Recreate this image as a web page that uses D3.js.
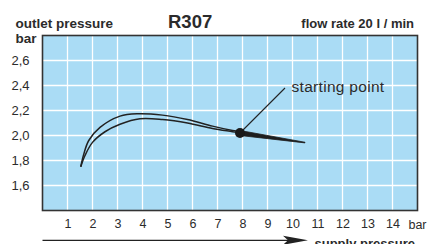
<!DOCTYPE html>
<html>
<head>
<meta charset="utf-8">
<script src="https://cdn.jsdelivr.net/npm/d3@7"></script>
<style>
  html, body { margin: 0; padding: 0; background: #fff; }
  svg { display: block; font-family: 'Liberation Sans', Arial, sans-serif; }
</style>
</head>
<body>
<div id="chart"></div>
<script>
// Chart data
const supplyTicks = [1, 2, 3, 4, 5, 6, 7, 8, 9, 10, 11, 12, 13, 14];
const outletTicks = [1.6, 1.8, 2.0, 2.2, 2.4, 2.6];

// upper curve (bar)
const supplyUpper = [1.53, 1.65, 1.85, 2.3, 3.1, 3.8, 4.8, 5.8, 6.8, 7.6, 7.9];
const outletUpper = [1.75, 1.85, 1.96, 2.065, 2.155, 2.174, 2.163, 2.128, 2.075, 2.04, 2.03];

// lower curve (bar)
const supplyLower = [1.53, 1.7, 2.0, 2.5, 3.1, 3.9, 4.8, 5.8, 6.8, 7.6, 7.9];
const outletLower = [1.75, 1.84, 1.945, 2.03, 2.09, 2.134, 2.128, 2.10, 2.056, 2.03, 2.02];

// tail after the starting point (drawn as a wedge)
const supplyTail = [7.9, 10.5];
const outletTailTop = [2.04, 1.946];
const outletTailBottom = [2.0, 1.941];

// starting point and its label
const startPoint = { x: 7.9, y: 2.02 };
const labelPoint = { x: 9.7, y: 2.38 };

const width = 427, height = 244;
const margin = { top: 35.5, right: 9.5, bottom: 33.5, left: 42.5 };

const svg = d3.select('#chart').append('svg')
  .attr('width', width)
  .attr('height', height);

const x = d3.scaleLinear().domain([0, 15]).range([margin.left, width - margin.right]);
const y = d3.scaleLinear().domain([1.4, 2.8]).range([height - margin.bottom, margin.top]);

const textColor = '#2b2b2b';

// plot background
svg.append('rect')
  .attr('x', x(0)).attr('y', y(2.8))
  .attr('width', x(15) - x(0)).attr('height', y(1.4) - y(2.8))
  .attr('fill', '#aadcf5');

// white grid
const grid = svg.append('g').attr('stroke', '#fff').attr('stroke-width', 1.3);
grid.selectAll('.vx').data(supplyTicks).enter().append('line')
  .attr('x1', d => x(d)).attr('x2', d => x(d))
  .attr('y1', y(2.8)).attr('y2', y(1.4));
grid.selectAll('.hy').data(outletTicks).enter().append('line')
  .attr('x1', x(0)).attr('x2', x(15))
  .attr('y1', d => y(d)).attr('y2', d => y(d));

// frame
svg.append('rect')
  .attr('x', x(0)).attr('y', y(2.8))
  .attr('width', x(15) - x(0)).attr('height', y(1.4) - y(2.8))
  .attr('fill', 'none').attr('stroke', '#333').attr('stroke-width', 1.6);

// y axis labels
svg.append('g')
  .attr('transform', `translate(${x(0)},0)`)
  .call(d3.axisLeft(y).tickValues(outletTicks).tickSize(0).tickPadding(13)
    .tickFormat(d => d3.format('.1f')(d).replace('.', ',')))
  .call(g => g.select('.domain').remove())
  .selectAll('text')
  .attr('font-size', 13).attr('fill', textColor).attr('font-family', null);

// x axis labels
svg.append('g')
  .attr('transform', `translate(0,${y(1.4)})`)
  .call(d3.axisBottom(x).tickValues(supplyTicks).tickSize(0).tickPadding(9).tickFormat(d3.format('d')))
  .call(g => g.select('.domain').remove())
  .selectAll('text')
  .attr('font-size', 12.5).attr('fill', textColor).attr('font-family', null);

svg.append('text')
  .attr('x', x(15)).attr('y', y(1.4) + 18.5)
  .attr('text-anchor', 'middle').attr('font-size', 12.5).attr('fill', textColor)
  .text('bar');

// curves
const line = d3.line().x(d => x(d[0])).y(d => y(d[1])).curve(d3.curveCatmullRom.alpha(0.5));
const curves = [d3.zip(supplyUpper, outletUpper), d3.zip(supplyLower, outletLower)];
svg.selectAll('.curve').data(curves).enter().append('path')
  .attr('d', line)
  .attr('fill', 'none')
  .attr('stroke', '#222')
  .attr('stroke-width', 1.5);

// tail wedge
const tailArea = d3.area()
  .x(d => x(d[0])).y0(d => y(d[1])).y1(d => y(d[2]));
svg.append('path')
  .datum(d3.zip(supplyTail, outletTailTop, outletTailBottom))
  .attr('d', tailArea)
  .attr('fill', '#1e1e1e')
  .attr('stroke', '#1e1e1e')
  .attr('stroke-width', 0.8);

// leader line + starting point
svg.append('line')
  .attr('x1', x(startPoint.x)).attr('y1', y(startPoint.y))
  .attr('x2', x(labelPoint.x)).attr('y2', y(labelPoint.y))
  .attr('stroke', '#222').attr('stroke-width', 1.1);
svg.append('circle')
  .attr('cx', x(startPoint.x)).attr('cy', y(startPoint.y))
  .attr('r', 5).attr('fill', '#1a1a1a');
svg.append('text')
  .attr('x', x(labelPoint.x) + 6.5).attr('y', y(labelPoint.y) + 3.5)
  .attr('font-size', 15.5).attr('letter-spacing', 0.3).attr('fill', textColor)
  .text('starting point');

// titles
svg.append('text')
  .attr('x', 15.5).attr('y', 28.3)
  .attr('font-size', 13.5).attr('font-weight', 'bold').attr('fill', textColor)
  .text('outlet pressure');
svg.append('text')
  .attr('x', 15.5).attr('y', 43.3)
  .attr('font-size', 13.5).attr('font-weight', 'bold').attr('fill', textColor)
  .text('bar');
svg.append('text')
  .attr('x', 168).attr('y', 28.3)
  .attr('font-size', 18.5).attr('font-weight', 'bold').attr('fill', textColor)
  .text('R307');
svg.append('text')
  .attr('x', 414).attr('y', 27.7).attr('text-anchor', 'end')
  .attr('font-size', 13).attr('font-weight', 'bold').attr('fill', textColor)
  .text('flow rate 20 l / min');

// supply pressure arrow
const arrowY = 240.3;
svg.append('line')
  .attr('x1', x(0)).attr('x2', 290).attr('y1', arrowY).attr('y2', arrowY)
  .attr('stroke', '#222').attr('stroke-width', 1.3);
svg.append('path')
  .attr('d', `M308,${arrowY} L283,${arrowY - 4.5} L288,${arrowY} L283,${arrowY + 4.5} Z`)
  .attr('fill', '#222');
svg.append('text')
  .attr('x', 314.5).attr('y', 248)
  .attr('font-size', 13).attr('font-weight', 'bold').attr('fill', textColor)
  .text('supply pressure');
</script>
</body>
</html>
